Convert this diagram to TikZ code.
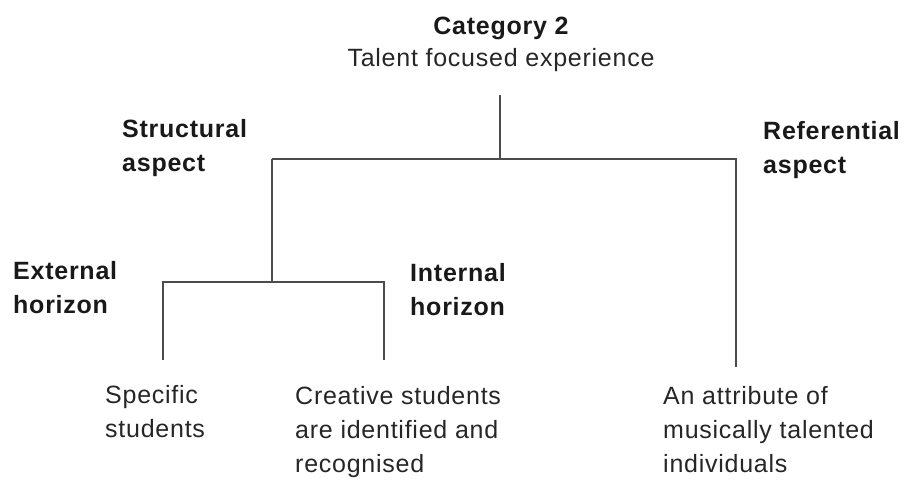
\documentclass[tikz,border=0pt]{standalone}
\usepackage{fontspec}
\setmainfont{Liberation Sans}[LetterSpace=3]
\begin{document}
\begin{tikzpicture}[x=1pt,y=-1pt,
  lbl/.style={inner sep=0pt, anchor=base west, align=left, text=black!85,
    font=\fontsize{25}{34}\selectfont},
  hdr/.style={lbl, text=black!90, font=\fontsize{25}{34}\selectfont\bfseries},
  conn/.style={draw=black!70, line width=1.8pt}]
\useasboundingbox (0,0) rectangle (905,481);
% title
\node[hdr, anchor=base] (cat) at (501,35) {Category 2};
\node[lbl, anchor=base] (talent) at (501,67) {Talent focused experience};
% aspect labels (anchor = baseline of last line)
\node[hdr] (struct) at (122,172) {Structural\\aspect};
\node[hdr] (refer) at (763,174) {Referential\\aspect};
\node[hdr] (ext) at (13,313) {External\\horizon};
\node[hdr] (int) at (410,315) {Internal\\horizon};
% leaf labels
\node[lbl] (spec) at (105,437) {Specific\\students};
\node[lbl] (creat) at (295,472) {Creative students\\are identified and\\recognised};
\node[lbl] (attr) at (663,472) {An attribute of\\musically talented\\individuals};
% tree coordinates
\coordinate (top) at (500,95);
\coordinate (j1) at (500,159);
\coordinate (l1) at (272,159);
\coordinate (r1) at (736,159);
\coordinate (rend) at (736,367);
\coordinate (j2) at (272,282);
\coordinate (l2) at (163,282);
\coordinate (r2) at (384,282);
\coordinate (l2end) at (163,360);
\coordinate (r2end) at (384,360);
% connectors
\draw[conn] (top) -- (j1);
\draw[conn] (l1) -- (r1) -- (rend);
\draw[conn] (l1) -- (j2);
\draw[conn] (l2end) -- (l2) -- (r2) -- (r2end);
\end{tikzpicture}
\end{document}
